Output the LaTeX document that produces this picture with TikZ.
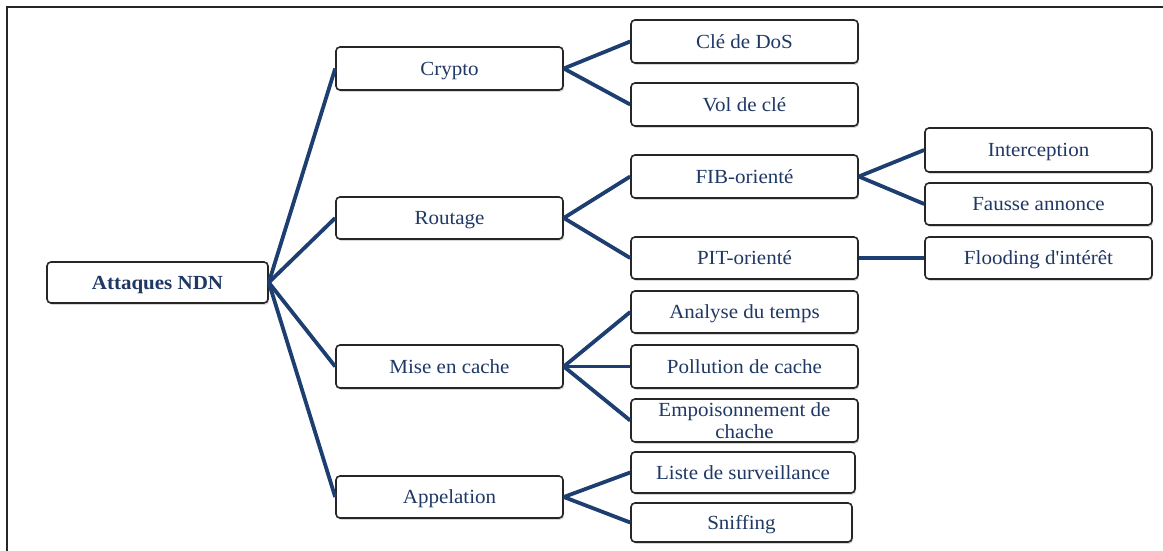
\documentclass[tikz,border=0pt]{standalone}
\usepackage{fontspec}
\setmainfont{Liberation Serif}[FakeStretch=1.05, Ligatures=TeXOff]
\usetikzlibrary{shadows}
\definecolor{txtblue}{RGB}{31,56,100}
\definecolor{lineblue}{RGB}{28,62,112}
\tikzset{
  box/.style={draw=black!85, line width=1.6pt, rounded corners=4pt, fill=white,
    minimum width=227pt, minimum height=43pt, inner sep=2pt,
    text height=16.5pt, text depth=3pt,
    text=txtblue, font=\fontsize{20}{23}\selectfont, align=center,
    drop shadow={shadow xshift=1.2pt, shadow yshift=-1.8pt, fill=black!35, opacity=0.45}},
  link/.style={draw=lineblue, line width=3.8pt},
  frameline/.style={draw=black!85, line width=2pt}
}
\begin{document}
\begin{tikzpicture}[x=1pt,y=-1pt]
\useasboundingbox (0,0) rectangle (1163,551);
\draw[frameline] (7,551) -- (7,7) -- (1163,7);

% level 0
\node[box, minimum width=221pt, minimum height=41pt, font=\fontsize{20}{23}\selectfont\bfseries] (root) at (157.5,282.5) {Attaques NDN};

% level 1
\node[box] (crypto) at (449.5,68.5) {Crypto};
\node[box, minimum height=42pt] (routage) at (449.5,218) {Routage};
\node[box] (mise) at (449.5,366.5) {Mise en cache};
\node[box, minimum height=42pt] (appel) at (449.5,497) {Appelation};

% level 2
\node[box] (dos) at (744.5,41.5) {Clé de DoS};
\node[box] (vol) at (744.5,104.5) {Vol de clé};
\node[box] (fib) at (744.5,176.5) {FIB-orienté};
\node[box, minimum height=42pt] (pit) at (744.5,258) {PIT-orienté};
\node[box, minimum height=42pt] (analyse) at (744.5,312) {Analyse du temps};
\node[box] (pollution) at (744.5,366.5) {Pollution de cache};
\node[box, text height=, text depth=, inner ysep=0pt] (empoi) at (744.5,420.5) {Empoisonnement de\\[-1pt]chache};
\node[box, minimum width=224pt, minimum height=41pt] (liste) at (743,472.5) {Liste de surveillance};
\node[box, minimum width=221pt, minimum height=39pt] (sniff) at (741.5,522.5) {Sniffing};

% level 3
\node[box, minimum height=44pt] (inter) at (1038.5,150) {Interception};
\node[box, minimum height=42pt] (fausse) at (1038.5,204) {Fausse annonce};
\node[box, minimum height=42pt] (flood) at (1038.5,258) {Flooding d'intérêt};

% connectors
\draw[link] (root.east) -- (crypto.west);
\draw[link] (root.east) -- (routage.west);
\draw[link] (root.east) -- (mise.west);
\draw[link] (root.east) -- (appel.west);

\draw[link] (crypto.east) -- (dos.west);
\draw[link] (crypto.east) -- (vol.west);
\draw[link] (routage.east) -- (fib.west);
\draw[link] (routage.east) -- (pit.west);
\draw[link] (mise.east) -- (analyse.west);
\draw[link] (mise.east) -- (pollution.west);
\draw[link] (mise.east) -- (empoi.west);
\draw[link] (appel.east) -- (liste.west);
\draw[link] (appel.east) -- (sniff.west);

\draw[link] (fib.east) -- (inter.west);
\draw[link] (fib.east) -- (fausse.west);
\draw[link] (pit.east) -- (flood.west);
\end{tikzpicture}
\end{document}
